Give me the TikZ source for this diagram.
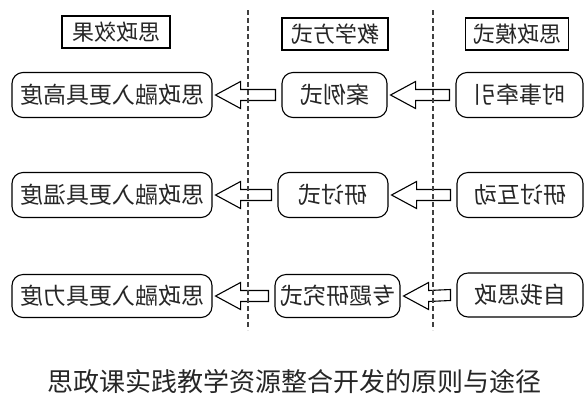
\documentclass[tikz,border=0pt]{standalone}
\usepackage{fontspec}
\setmainfont{Noto Sans CJK SC}
\usepackage{tikz}
\usetikzlibrary{calc}
\newcommand{\mir}[1]{\scalebox{-1}[1]{#1}}
\newcommand{\hollowarrow}[2]{%
  \path (#2.east) ++(3,0) coordinate (tip);
  \path (#1.west) ++(-6,0) coordinate (tail);
  \draw[blockarr] (tip) -- ++(25,-13.5) -- ++(0,8) -- ($(tail)+(0,-5.5)$)
    -- ($(tail)+(0,5.5)$) -- ($(tip)+(25,5.5)$) -- ($(tip)+(25,13.5)$) -- cycle;}

\begin{document}
\begin{tikzpicture}[x=1pt,y=-1pt]
	 \tikzstyle{head}=[rectangle,draw,line width=1.5pt,minimum height=32pt,inner sep=0pt,text=black!85,font=\fontsize{22}{24}\selectfont]
	 \tikzstyle{item}=[rectangle,draw,rounded corners=11pt,line width=1.1pt,minimum height=45pt,inner sep=0pt,text=black!85,font=\fontsize{23}{25}\selectfont]
	 \tikzstyle{blockarr}=[draw,line width=1.1pt,line join=miter,black]
	 \tikzstyle{divider}=[draw,line width=1.2pt,black!75,dash pattern=on 5pt off 3pt]
	 \useasboundingbox (0,0) rectangle (588,400);
	 \node[head,minimum width=108pt] (hEff) at (116,32) {\mir{思政效果}};
	 \node[head,minimum width=106pt] (hMeth) at (335,34) {\mir{教学方式}};
	 \node[head,minimum width=103pt] (hMode) at (517,34) {\mir{思政模式}};
	 \node[item,minimum width=200pt] (eff1) at (112,95) {\mir{思政融入更具高度}};
	 \node[item,minimum width=105pt] (meth1) at (334.5,95) {\mir{案例式}};
	 \node[item,minimum width=127pt] (mode1) at (519.5,95) {\mir{时事牵引}};
	 \node[item,minimum width=200pt] (eff2) at (112,195) {\mir{思政融入更具温度}};
	 \node[item,minimum width=110pt] (meth2) at (333,195) {\mir{研讨式}};
	 \node[item,minimum width=126pt] (mode2) at (520,195) {\mir{研讨互动}};
	 \node[item,minimum width=200pt,minimum height=43pt] (eff3) at (112,296) {\mir{思政融入更具力度}};
	 \node[item,minimum width=125pt,minimum height=43pt] (meth3) at (337.5,296) {\mir{专题研究式}};
	 \node[item,minimum width=126pt,minimum height=44pt] (mode3) at (520,295) {\mir{自我思政}};
	 \hollowarrow{meth1}{eff1}
	 \hollowarrow{mode1}{meth1}
	 \hollowarrow{meth2}{eff2}
	 \hollowarrow{mode2}{meth2}
	 \hollowarrow{meth3}{eff3}
	 \hollowarrow{mode3}{meth3}
	 \coordinate (d1top) at (248,10);
	 \coordinate (d1bot) at (248,330);
	 \coordinate (d2top) at (433,10);
	 \coordinate (d2bot) at (433,330);
	 \draw[divider] (d1top) -- (d1bot);
	 \draw[divider] (d2top) -- (d2bot);
	 \node[text=black!85,font=\fontsize{26}{28}\selectfont] (caption) at (294,382) {思政课实践教学资源整合开发的原则与途径};
 \end{tikzpicture}
\end{document}
